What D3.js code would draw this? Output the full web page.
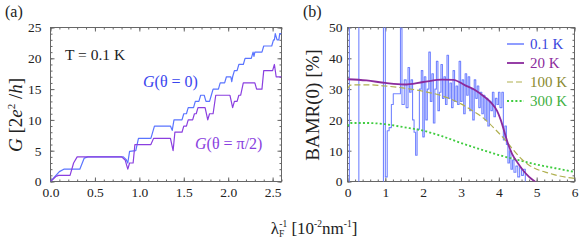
<!DOCTYPE html>
<html>
<head>
<meta charset="utf-8">
<script src="https://cdn.jsdelivr.net/npm/d3@7"></script>
<style>
body { margin:0; background:#fff; }
svg text { font-family: "Liberation Serif", "Times New Roman", serif; fill:#222; }
.axis path { display:none; }
.axis line { stroke:#666; }
.axis text { font-size:13.5px; fill:#222; font-family: "Liberation Serif", serif; }
</style>
</head>
<body>
<svg width="582" height="241"></svg>
<script>
// ---- panel (a): conductance vs inverse Fermi wavelength
var v_ATicksX = [0, 0.5, 1, 1.5, 2, 2.5];
var v_ATicksY = [0, 5, 10, 15, 20, 25];
var v_GTheta0 = [[0,0],[0.10,1.6],[0.15,2],[0.33,2],[0.38,3.8],[0.42,4],[0.82,4],[0.85,3.6],[0.87,3.0],[0.89,4.9],
  [0.96,5],[0.99,7],[1.13,7],[1.17,9],[1.35,9],[1.37,8.3],[1.39,10],[1.48,10],[1.50,11],[1.53,11],[1.55,12],
  [1.61,12],[1.63,13],[1.67,13],[1.69,14],[1.73,14],[1.75,13],[1.79,13],[1.81,14],[1.83,15],[1.89,15],[1.91,16],
  [1.96,16],[1.98,17],[2.03,17],[2.04,16.2],[2.05,17],[2.07,18],[2.10,18],[2.12,19],[2.17,19],[2.19,20],[2.26,20],
  [2.28,21],[2.29,20.3],[2.30,21],[2.38,21],[2.40,22],[2.49,22],[2.51,23],[2.52,23],[2.53,24],[2.55,23],[2.57,23],
  [2.58,24],[2.60,24]];
var v_GThetaPi2 = [[0,0],[0.06,0.8],[0.09,1],[0.22,1],[0.26,3],[0.30,4],[0.80,4],[0.84,3.5],[0.87,2],[0.89,3],
  [0.93,3],[0.95,6],[1.13,6],[1.16,7],[1.35,7],[1.38,5],[1.40,8],[1.48,8],[1.50,9],[1.53,9],[1.55,10],[1.60,10],
  [1.62,11],[1.64,11],[1.66,12],[1.74,12],[1.77,10],[1.79,11],[1.83,11],[1.86,14],[2.02,14],[2.05,12],[2.07,13],
  [2.10,13],[2.12,14],[2.14,14],[2.17,16],[2.30,16],[2.32,15],[2.38,15],[2.40,18],[2.50,18],[2.52,19],[2.54,17],
  [2.60,17]];

// ---- panel (b): BAMR(0) for four temperatures
var v_BTicksX = [0, 1, 2, 3, 4, 5, 6];
var v_BTicksY = [0, 10, 20, 30, 40, 50];
var v_Legend  = ["0.1 K", "20 K", "100 K", "300 K"];
var v_Bamr01 = [[0,-10],[0.05,70],[0.30,-10],[0.95,70],[1.00,1.5],[1.05,16.5],[1.10,17.5],[1.16,25],[1.21,28.5],
  [1.40,52],[1.44,25],[1.50,33],[1.55,24],[1.60,37],[1.64,29],[1.68,33],[1.72,20],[1.76,16],[1.80,8.5],[1.84,17],
  [1.90,30],[1.95,36],[1.99,14.5],[2.03,34],[2.07,20],[2.11,30],[2.15,42],[2.19,26],[2.23,35],[2.27,19],[2.31,30],
  [2.35,39],[2.39,23],[2.43,29],[2.47,38],[2.51,27],[2.55,34],[2.59,25],[2.63,41],[2.67,27],[2.71,32],[2.75,24],
  [2.79,36],[2.83,26],[2.87,31],[2.91,25],[2.95,39],[2.99,26],[3.03,33],[3.07,22],[3.11,35],[3.15,28],[3.19,34],
  [3.23,23],[3.27,30],[3.31,20],[3.35,33],[3.39,27],[3.43,31],[3.47,24],[3.51,29],[3.55,22],[3.59,28],[3.63,20],
  [3.67,27],[3.71,18],[3.75,26],[3.79,23],[3.83,29],[3.87,21],[3.91,27],[3.95,25],[3.99,29],[4.03,24],[4.08,29],
  [4.12,13.5],[4.16,18],[4.20,12],[4.24,6],[4.28,10],[4.32,4],[4.36,7],[4.40,3],[4.45,5],[4.50,1.5],[4.55,4.5],
  [4.60,2],[4.65,4],[4.70,-2],[4.90,-2]];
var v_Bamr20 = [[0,33.2],[0.5,32.8],[1,32],[1.5,31.5],[2,32.3],[2.5,33.1],[2.8,33],[3.1,31.3],[3.4,29.5],[3.6,27.7],
  [3.8,25.5],[3.95,23],[4.05,20],[4.15,16],[4.25,12],[4.35,9],[4.5,6],[4.65,3.5],[4.8,1.5],[4.95,0],[5.05,-1]];
var v_Bamr100 = [[0,30],[0.08,31.3],[0.5,31.4],[1,31],[1.5,30.3],[2,29.3],[2.5,27.8],[3,25.2],[3.3,23],[3.6,20.5],
  [3.9,17],[4.2,13],[4.4,10],[4.6,7.3],[4.8,5.3],[5,4],[5.3,2.8],[5.6,1.8],[6,1]];
var v_Bamr300 = [[0,18],[0.08,19],[0.5,19],[1,18.6],[1.5,17.6],[2,16.5],[2.5,14.7],[3,12.5],[3.5,10.5],[4,8.6],
  [4.5,7],[5,5.5],[5.5,4.3],[6,3.1]];

var v_SVG = d3.select("svg");

function f_Axis(i_G, i_Axis, i_Transform)
{
	i_G.append("g").attr("class", "axis").attr("transform", i_Transform)
		.call(i_Axis)
		.attr("font-family", null).attr("font-size", null);
}

function f_Frame(i_Id, i_X, i_Y, i_MinorX, i_MinorY, i_TicksX, i_TicksY, i_FmtX, i_PadY)
{
	var v_G  = v_SVG.append("g");
	var v_X0 = i_X.range()[0], v_X1 = i_X.range()[1];
	var v_Y0 = i_Y.range()[0], v_Y1 = i_Y.range()[1];
	var v_None = function() { return ""; };

	v_SVG.append("clipPath").attr("id", i_Id)
		.append("rect").attr("x", v_X0).attr("y", v_Y1).attr("width", v_X1 - v_X0).attr("height", v_Y0 - v_Y1);

	// minor ticks, all four sides
	f_Axis(v_G, d3.axisBottom(i_X).tickValues(i_MinorX).tickSize(-2).tickFormat(v_None), "translate(0," + v_Y0 + ")");
	f_Axis(v_G, d3.axisTop(i_X).tickValues(i_MinorX).tickSize(-2).tickFormat(v_None), "translate(0," + v_Y1 + ")");
	f_Axis(v_G, d3.axisLeft(i_Y).tickValues(i_MinorY).tickSize(-2).tickFormat(v_None), "translate(" + v_X0 + ",0)");
	f_Axis(v_G, d3.axisRight(i_Y).tickValues(i_MinorY).tickSize(-2).tickFormat(v_None), "translate(" + v_X1 + ",0)");

	// major ticks with labels
	f_Axis(v_G, d3.axisBottom(i_X).tickValues(i_TicksX).tickSize(-4).tickPadding(6).tickFormat(i_FmtX), "translate(0," + v_Y0 + ")");
	f_Axis(v_G, d3.axisTop(i_X).tickValues(i_TicksX).tickSize(-4).tickFormat(v_None), "translate(0," + v_Y1 + ")");
	f_Axis(v_G, d3.axisLeft(i_Y).tickValues(i_TicksY).tickSize(-4).tickPadding(i_PadY).tickFormat(d3.format("d")), "translate(" + v_X0 + ",0)");
	f_Axis(v_G, d3.axisRight(i_Y).tickValues(i_TicksY).tickSize(-4).tickFormat(v_None), "translate(" + v_X1 + ",0)");

	v_G.append("rect")
		.attr("x", v_X0).attr("y", v_Y1).attr("width", v_X1 - v_X0).attr("height", v_Y0 - v_Y1)
		.attr("fill", "none").attr("stroke", "#666").attr("stroke-width", 1);
	return v_G;
}

function f_Line(i_Data, i_X, i_Y, i_Clip, i_Color, i_Width, i_Dash, i_Curve)
{
	var v_Line = d3.line()
		.x(function(d) { return i_X(d[0]); })
		.y(function(d) { return i_Y(d[1]); })
		.curve(i_Curve);
	v_SVG.append("path")
		.datum(i_Data)
		.attr("clip-path", "url(#" + i_Clip + ")")
		.attr("d", v_Line)
		.attr("fill", "none")
		.attr("stroke", i_Color)
		.attr("stroke-width", i_Width)
		.attr("stroke-dasharray", i_Dash)
		.attr("stroke-linejoin", "round");
}

// ---------- panel (a)
var v_AX = d3.scaleLinear().domain([0, 2.6]).range([50.5, 281.5]);
var v_AY = d3.scaleLinear().domain([0, 25]).range([181.5, 27.5]);
f_Frame("clipA", v_AX, v_AY, d3.range(0, 2.61, 0.1), d3.range(0, 25.1, 1), v_ATicksX, v_ATicksY, d3.format(".1f"), 9);
f_Line(v_GTheta0,   v_AX, v_AY, "clipA", "#5a74ff", 1.2, null, d3.curveLinear);
f_Line(v_GThetaPi2, v_AX, v_AY, "clipA", "#8a3fe0", 1.2, null, d3.curveLinear);

v_SVG.append("text").attr("x", 5).attr("y", 17).attr("font-size", 16).text("(a)");
v_SVG.append("text").attr("x", 65).attr("y", 60).attr("font-size", 15.5).text("T = 0.1 K");

var v_TA = v_SVG.append("text").attr("x", 143).attr("y", 87).attr("font-size", 16).style("fill", "#3a46ee");
v_TA.append("tspan").attr("font-style", "italic").text("G");
v_TA.append("tspan").text("(θ = 0)");
var v_TB = v_SVG.append("text").attr("x", 195).attr("y", 149).attr("font-size", 16).style("fill", "#8a3fe0");
v_TB.append("tspan").attr("font-style", "italic").text("G");
v_TB.append("tspan").text("(θ = π/2)");

var v_YA = v_SVG.append("text").attr("transform", "translate(22,115) rotate(-90)")
	.attr("text-anchor", "middle").attr("font-size", 19);
v_YA.append("tspan").attr("font-style", "italic").text("G");
v_YA.append("tspan").text(" [2");
v_YA.append("tspan").attr("font-style", "italic").text("e");
v_YA.append("tspan").attr("font-size", 11).attr("dy", -7).text("2");
v_YA.append("tspan").attr("dy", 7).text(" /");
v_YA.append("tspan").attr("font-style", "italic").text("h");
v_YA.append("tspan").text("]");

// ---------- panel (b)
var v_BX = d3.scaleLinear().domain([0, 6]).range([347.5, 574.5]);
var v_BY = d3.scaleLinear().domain([0, 50]).range([181.5, 27.5]);
f_Frame("clipB", v_BX, v_BY, d3.range(0, 6.01, 0.2), d3.range(0, 50.1, 2), v_BTicksX, v_BTicksY, d3.format("d"), 5);
f_Line(v_Bamr01,  v_BX, v_BY, "clipB", "#7384ff", 1.1, null, d3.curveStepAfter);
f_Line(v_Bamr300, v_BX, v_BY, "clipB", "#3fcc3f", 1.8, "2,2.2", d3.curveMonotoneX);
f_Line(v_Bamr100, v_BX, v_BY, "clipB", "#b0b050", 1.2, "6,3", d3.curveMonotoneX);
f_Line(v_Bamr20,  v_BX, v_BY, "clipB", "#8b2a9c", 1.8, null, d3.curveMonotoneX);

v_SVG.append("text").attr("x", 303).attr("y", 17).attr("font-size", 16).text("(b)");
v_SVG.append("text").attr("transform", "translate(319,105) rotate(-90)")
	.attr("text-anchor", "middle").attr("font-size", 19).text("BAMR(0) [%]");

// legend
var v_LegColor = ["#8f9dff", "#8b2a9c", "#b0b050", "#3fcc3f"];
var v_LegText  = ["#3a46dd", "#8b2a9c", "#8a8a30", "#3fb03f"];
var v_LegWidth = [2, 1.8, 1.2, 1.8];
var v_LegDash  = [null, null, "6,3", "2,2.2"];
var v_Leg = v_SVG.append("g").selectAll("g").data(v_Legend).enter().append("g")
	.attr("transform", function(d, i) { return "translate(507," + (44 + i * 19) + ")"; });
v_Leg.append("line").attr("x1", 0).attr("x2", 17).attr("y1", 0).attr("y2", 0)
	.attr("stroke", function(d, i) { return v_LegColor[i]; })
	.attr("stroke-width", function(d, i) { return v_LegWidth[i]; })
	.attr("stroke-dasharray", function(d, i) { return v_LegDash[i]; });
v_Leg.append("text").attr("x", 23).attr("y", 0).attr("dy", "0.32em").attr("font-size", 15)
	.style("fill", function(d, i) { return v_LegText[i]; })
	.text(function(d) { return d; });

// shared x label
var v_XL = v_SVG.append("text").attr("x", 314).attr("y", 234).attr("text-anchor", "middle").attr("font-size", 17);
v_XL.append("tspan").text("λ");
v_XL.append("tspan").attr("font-size", 9.5).attr("dy", 3).text("F");
v_XL.append("tspan").attr("font-size", 9.5).attr("dx", -5).attr("dy", -10).text("-1");
v_XL.append("tspan").attr("dy", 7).text(" [10");
v_XL.append("tspan").attr("font-size", 9.5).attr("dy", -7).text("-2");
v_XL.append("tspan").attr("dy", 7).text("nm");
v_XL.append("tspan").attr("font-size", 9.5).attr("dy", -7).text("-1");
v_XL.append("tspan").attr("dy", 7).text("]");
</script>
</body>
</html>
